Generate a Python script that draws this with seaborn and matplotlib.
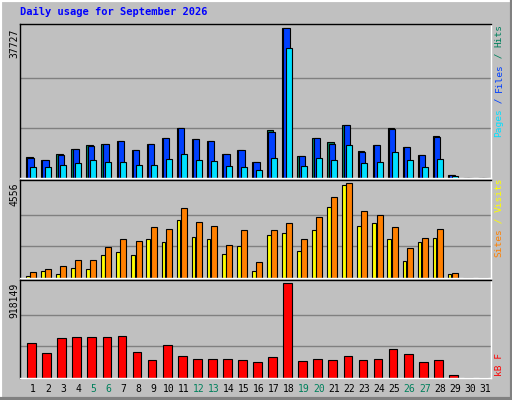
import numpy as np
import pandas as pd
import matplotlib
matplotlib.use("Agg")
import matplotlib.pyplot as plt
import seaborn as sns
from matplotlib.lines import Line2D

# Данные по дням
days = list(range(1, 32))
hits = [5390, 4620, 6160, 7440, 8210, 8460, 9230, 7180, 8460, 10000, 12570, 9750, 9230, 6160, 7180,
        4100, 12140, 37727, 5640, 10000, 8980, 13340, 6930, 8210, 12570, 7700, 5900, 10520, 770, 0, 0]
files = [5130, 4620, 5900, 7440, 7950, 8460, 9230, 7180, 8460, 10000, 12570, 9750, 9230, 6160, 7180,
         4100, 11540, 37727, 5640, 10000, 8460, 13340, 6670, 8210, 12310, 7700, 5900, 10260, 770, 0, 0]
pages = [2650, 2650, 3160, 3850, 4620, 4100, 4100, 3330, 3330, 4870, 6160, 4620, 4360, 3080, 2820,
         2050, 5130, 32830, 3080, 5130, 4620, 8210, 3850, 4100, 6670, 4620, 2820, 4870, 510, 0, 0]
visits = [115, 347, 198, 495, 446, 1089, 1238, 1089, 1848, 1700, 2772, 1947, 1848, 1139, 1535,
          347, 2079, 2178, 1287, 2277, 3416, 4455, 2475, 2624, 1848, 792, 1700, 1898, 198, 0, 0]
sites = [297, 446, 594, 842, 842, 1502, 1848, 1749, 2426, 2327, 3366, 2673, 2475, 1584, 2277,
         743, 2277, 2624, 1848, 2921, 3861, 4556, 3218, 3020, 2426, 1436, 1898, 2327, 248, 0, 0]
kbytes = [333000, 242000, 383000, 393000, 393000, 393000, 404000, 252000, 172000, 323000, 212000,
          182000, 182000, 182000, 172000, 151000, 202000, 918149, 161000, 182000, 172000, 212000,
          172000, 182000, 282000, 232000, 151000, 172000, 30000, 0, 0]
weekends = [5, 6, 12, 13, 19, 20, 26, 27]

BG = "#C0C0C0"
fig = plt.figure(figsize=(5.12, 4.0), dpi=100, facecolor=BG)
mono = "DejaVu Sans Mono"


def px_axes(x0, y0, x1, y1):
    ax = fig.add_axes([x0 / 512, 1 - y1 / 400, (x1 - x0) / 512, (y1 - y0) / 400])
    ax.set_facecolor(BG)
    return ax


def bars(ax, vals, offset, width, color):
    d = np.array(days, dtype=float) + offset
    sns.barplot(x=d, y=vals, ax=ax, native_scale=True, width=width, color=color,
                saturation=1, edgecolor="black", linewidth=0.8)


def style(ax, vmax):
    ax.set_xlim(0.13, 31.4)
    ax.set_ylim(0, vmax * 1.03)
    for f in (1 / 3, 2 / 3):
        ax.axhline(vmax * f, color="#808080", lw=1, zorder=0)
    ax.set_xticks([])
    ax.set_yticks([])
    ax.set_xlabel("")
    ax.set_ylabel("")
    for s in ("top", "left"):
        ax.spines[s].set_color("black")
    for s in ("bottom", "right"):
        ax.spines[s].set_color("white")
    for s in ax.spines.values():
        s.set_linewidth(1)


# Верхняя панель: хиты / файлы / страницы
ax1 = px_axes(20, 24, 491, 178)
bars(ax1, hits, -0.25, 0.42, "#00805C")
bars(ax1, files, -0.17, 0.42, "#0040FF")
bars(ax1, pages, 0.0, 0.4, "#00E0FF")
style(ax1, max(hits))

# Средняя панель: визиты / сайты
ax2 = px_axes(20, 180, 491, 278)
bars(ax2, visits, -0.35, 0.25, "#FFFF00")
bars(ax2, sites, 0.0, 0.4, "#FF8000")
style(ax2, max(sites))

# Нижняя панель: килобайты
ax3 = px_axes(20, 280, 491, 378)
bars(ax3, kbytes, -0.1, 0.58, "#FF0000")
style(ax3, max(kbytes))

# Подписи
fig.text(20 / 512, 1 - 12 / 400, "Daily usage for September 2026", color="#0000FF",
         fontsize=7.5, fontweight="bold", family=mono, va="center")
for y, v in ((29, max(hits)), (183, max(sites)), (283, max(kbytes))):
    fig.text(14 / 512, 1 - y / 400, str(v), rotation=90, fontsize=7, family=mono,
             ha="center", va="top")


def side_label(y_bottom, parts):
    y = y_bottom
    for txt, col in parts:
        fig.text(499 / 512, 1 - y / 400, txt, rotation=90, color=col, fontsize=6.8,
                 family=mono, ha="center", va="bottom")
        y -= len(txt) * 5.6


side_label(137, [("Pages", "#00E0FF"), (" / ", "#0040FF"), ("Files", "#0040FF"),
                 (" / ", "#00805C"), ("Hits", "#00805C")])
side_label(257, [("Sites", "#FF8000"), (" / ", "#FFFF00"), ("Visits", "#FFFF00")])
side_label(376, [("kB F", "#FF0000")])

for d in days:
    x = 20 + (d - 0.13) / (31.4 - 0.13) * 471
    fig.text(x / 512, 1 - 389 / 400, str(d), fontsize=7, family=mono, ha="center", va="center",
             color="#00805C" if d in weekends else "black")

# Рамка в стиле «3D»
fig.add_artist(Line2D([0, 0, 1], [0, 1, 1], transform=fig.transFigure, color="white", lw=3))
fig.add_artist(Line2D([0, 1, 1], [0.002, 0.002, 1], transform=fig.transFigure, color="#808080", lw=3))

fig.savefig("out.png", dpi=100, facecolor=BG)
